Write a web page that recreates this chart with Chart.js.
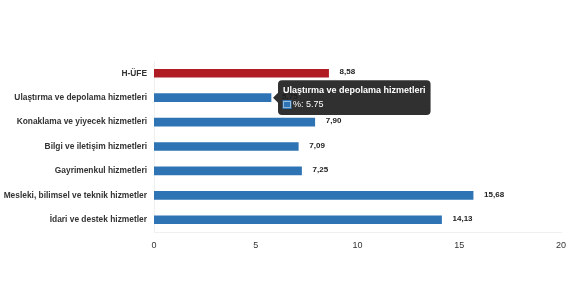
<!DOCTYPE html>
<html lang="tr">
<head>
    <meta charset="UTF-8">
    <title>H-ÜFE hizmet grupları</title>
    <style>
        html, body {
            margin: 0;
            padding: 0;
            background: #fff;
            overflow: hidden;
        }
    </style>
    <script src="https://cdn.jsdelivr.net/npm/chart.js"></script>
</head>
<body>
    <canvas id="hufe-chart" width="570" height="285"></canvas>

    <script>
        const categories = [
            'H-ÜFE',
            'Ulaştırma ve depolama hizmetleri',
            'Konaklama ve yiyecek hizmetleri',
            'Bilgi ve iletişim hizmetleri',
            'Gayrimenkul hizmetleri',
            'Mesleki, bilimsel ve teknik hizmetler',
            'İdari ve destek hizmetler'
        ];
        const values = [8.58, 5.75, 7.90, 7.09, 7.25, 15.68, 14.13];
        const barColors = ['#b01c24', '#2e74b5', '#2e74b5', '#2e74b5', '#2e74b5', '#2e74b5', '#2e74b5'];
        const xTicks = [0, 5, 10, 15, 20];

        // etiketleri barların sağına yaz (8,58 gibi virgüllü)
        const valueLabels = {
            id: 'valueLabels',
            afterDatasetsDraw(chart) {
                const ctx = chart.ctx;
                const meta = chart.getDatasetMeta(0);
                ctx.save();
                ctx.font = 'bold 8px "Liberation Sans", Arial, sans-serif';
                ctx.fillStyle = '#222';
                ctx.textBaseline = 'middle';
                meta.data.forEach((bar, i) => {
                    const txt = values[i].toFixed(2).replace('.', ',');
                    ctx.fillText(txt, bar.x + 11, bar.y - 1);
                });
                ctx.restore();
            }
        };

        const chart = new Chart(document.getElementById('hufe-chart'), {
            type: 'bar',
            data: {
                labels: categories,
                datasets: [{
                    label: '%',
                    data: values,
                    backgroundColor: barColors,
                    borderColor: barColors,
                    borderWidth: 0,
                    barThickness: 8
                }]
            },
            plugins: [valueLabels],
            options: {
                indexAxis: 'y',
                responsive: false,
                animation: false,
                events: [],
                layout: {
                    padding: { left: 0, right: 9, top: 61, bottom: 31 }
                },
                plugins: {
                    legend: { display: false },
                    tooltip: {
                        enabled: true,
                        xAlign: 'left',
                        yAlign: 'center',
                        backgroundColor: 'rgba(30,30,30,0.92)',
                        titleFont: { family: '"Liberation Sans", Arial, sans-serif', size: 9, weight: 'bold' },
                        bodyFont: { family: '"Liberation Sans", Arial, sans-serif', size: 9 },
                        titleColor: '#fff',
                        bodyColor: '#fff',
                        padding: 5,
                        caretSize: 5,
                        caretPadding: 2,
                        cornerRadius: 4,
                        boxWidth: 8,
                        boxHeight: 8,
                        titleMarginBottom: 3,
                        callbacks: {
                            label: (item) => item.dataset.label + ': ' + item.raw
                        }
                    }
                },
                scales: {
                    x: {
                        min: 0,
                        max: 20,
                        afterBuildTicks: (s) => { s.ticks = xTicks.map(v => ({ value: v })); },
                        afterFit: (s) => { s.height = 22; s.paddingRight = 0; s.paddingLeft = 0; },
                        grid: { display: false, drawTicks: false },
                        border: { color: '#f0f0f0' },
                        ticks: {
                            padding: 8,
                            color: '#333',
                            font: { family: '"Liberation Sans", Arial, sans-serif', size: 9 }
                        }
                    },
                    y: {
                        afterFit: (s) => { s.width = 154; },
                        grid: { display: false, drawTicks: false },
                        border: { color: '#f0f0f0' },
                        ticks: {
                            padding: 7,
                            color: '#333',
                            font: { family: '"Liberation Sans", Arial, sans-serif', size: 8.4, weight: 'bold' }
                        }
                    }
                }
            }
        });

        // Ulaştırma barının tooltip'i açık dursun
        const bar = chart.getDatasetMeta(0).data[1];
        chart.tooltip.setActiveElements([{ datasetIndex: 0, index: 1 }], { x: bar.x, y: bar.y });
        chart.update();
    </script>
</body>
</html>
